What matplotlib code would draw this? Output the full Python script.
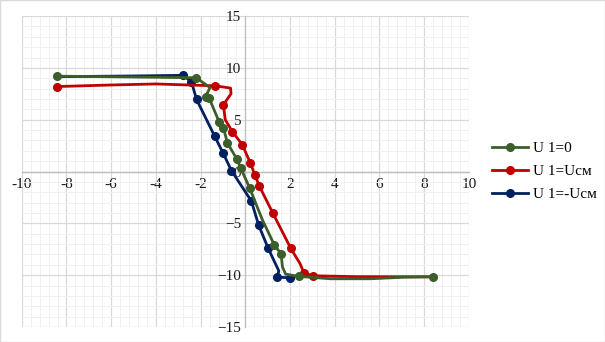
import numpy as np
import matplotlib.pyplot as plt
from matplotlib.ticker import MultipleLocator, FixedLocator

# U1=0 (green)
g_x = [-8.41, -2.2, -1.58, -1.78, -1.61, -1.17, -0.98, -0.8, -0.38, -0.2, 0.2, 0.75, 1.3, 1.6, 1.66, 1.8, 2.4, 3.8, 5.6, 7.1, 8.4]
g_y = [9.2, 9.05, 8.1, 7.2, 7.05, 4.78, 4.2, 2.75, 1.2, 0.3, -1.62, -4.6, -7.1, -7.95, -9.2, -9.9, -10.12, -10.35, -10.35, -10.2, -10.16]
g_mark = [0, 1, 3, 4, 5, 6, 7, 8, 9, 10, 12, 13, 16, 20]

# U1=Ucm (red)
r_x = [-8.41, -6.0, -4.0, -2.5, -1.35, -0.66, -0.64, -0.98, -0.9, -0.58, -0.14, 0.22, 0.43, 0.63, 1.22, 2.03, 2.45, 2.62, 3.01, 5.0, 8.4]
r_y = [8.2, 8.35, 8.45, 8.35, 8.27, 8.05, 7.5, 6.45, 5.0, 3.85, 2.6, 0.85, -0.35, -1.42, -3.97, -7.4, -8.9, -9.78, -10.06, -10.15, -10.16]
r_mark = [0, 4, 7, 9, 10, 11, 12, 13, 14, 15, 17, 18]

# U1=-Ucm (blue)
b_x = [-8.4, -5.0, -2.78, -2.41, -2.18, -1.37, -1.0, -0.62, 0.27, 0.6, 1.02, 1.5, 1.42, 2.0]
b_y = [9.15, 9.22, 9.28, 8.65, 6.95, 3.4, 1.8, 0.08, -2.85, -5.2, -7.4, -9.6, -10.2, -10.25]
b_mark = [2, 3, 4, 5, 6, 7, 8, 9, 10, 12, 13]

labels = ['U 1=0', 'U 1=Uсм', 'U 1=-Uсм']
colors = ['#3b5e2b', '#c00000', '#002060']
zords = [5, 4, 3]

plt.rcParams['font.family'] = ['Liberation Serif', 'DejaVu Serif']

fig = plt.figure(figsize=(6.05, 3.42), dpi=100)
ax = fig.add_axes([0.036, 0.044, 0.739, 0.909])

series = [(g_x, g_y, g_mark), (r_x, r_y, r_mark), (b_x, b_y, b_mark)]
for (xs, ys, mk), lab, col, z in zip(series, labels, colors, zords):
    ax.plot(xs, ys, color=col, lw=2.0, marker='o', ms=5.5, markevery=mk,
            label=lab, solid_joinstyle='round', zorder=z)

ax.set_xlim(-10, 10)
ax.set_ylim(-15, 15)
ax.xaxis.set_minor_locator(MultipleLocator(0.4))
ax.yaxis.set_major_locator(MultipleLocator(5))
ax.yaxis.set_minor_locator(MultipleLocator(1))
xt = [-10, -8, -6, -4, -2, 2, 4, 6, 8, 10]
ax.xaxis.set_major_locator(FixedLocator(xt))
ax.set_xticklabels([str(v) for v in xt])
ax.grid(which='major', color='#d9d9d9', lw=0.9)
ax.grid(which='minor', color='#f0f0f0', lw=0.7)
ax.set_axisbelow(True)

for s in ['top', 'right']:
    ax.spines[s].set_visible(False)
ax.spines['left'].set_position(('data', 0))
ax.spines['bottom'].set_position(('data', 0))
for s in ['left', 'bottom']:
    ax.spines[s].set_color('#bfbfbf')
    ax.spines[s].set_linewidth(1.0)

ax.tick_params(which='both', length=0, labelsize=11, colors='#1a1a1a')
ax.tick_params(axis='x', pad=5)
ax.tick_params(axis='y', pad=3)

ax.legend(loc='center left', bbox_to_anchor=(1.02, 0.5), frameon=False,
          fontsize=11, handlelength=2.4, labelspacing=0.6, handletextpad=0.3)

fig.patches.append(plt.Rectangle((0, 0), 1, 1, transform=fig.transFigure,
                                 fill=False, edgecolor='#d9d9d9', lw=1))
fig.savefig('out.png', dpi=100)
